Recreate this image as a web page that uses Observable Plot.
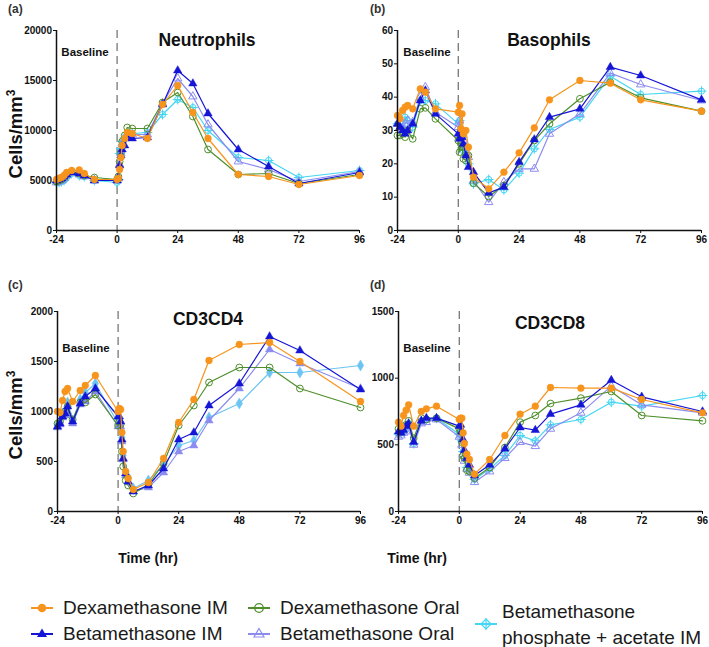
<!DOCTYPE html>
<html>
<head>
<meta charset="utf-8">
<script src="https://cdn.jsdelivr.net/npm/d3@7"></script>
<script src="https://cdn.jsdelivr.net/npm/@observablehq/plot@0.6"></script>
<style>
  html, body { margin: 0; padding: 0; background: #fff; }
  #root { position: relative; width: 709px; height: 647px; font-family: "Liberation Sans", Arial, sans-serif; color: #111; overflow: hidden; }
  .abs { position: absolute; white-space: nowrap; }
  .title { font-weight: bold; font-size: 17.5px; line-height: 18px; text-align: center; width: 200px; }
  .base { font-weight: bold; font-size: 11.5px; line-height: 12px; text-align: center; width: 80px; }
  .letter { font-size: 12px; line-height: 12px; font-weight: bold; color: #333; }
  .ylab { font-weight: bold; font-size: 18.5px; line-height: 20px; width: 140px; height: 20px; text-align: center; transform: rotate(-90deg); }
  .ylab sup { font-size: 12px; line-height: 0; }
  .xlab { font-weight: bold; font-size: 14px; line-height: 16px; width: 100px; text-align: center; }
  .leg { font-size: 19px; line-height: 22px; color: #1a1a1a; }
</style>
</head>
<body>
<div id="root"></div>
<script>
// ---------- DATA ----------
const times = [-24,-23,-22,-21,-20,-18,-15,-13,-9, 0,0.5,1,1.5,2,3,4,6,12,18,24,30,36,48,60,72,96];
const seriesNames = ["Dexamethasone IM","Betamethasone IM","Dexamethasone Oral","Betamethasone Oral","Betamethasone phosphate + acetate IM"];

// Neutrophils (cells/mm3)
const neutDexIM   = [5100,5200,5300,5500,5800,6000,6050,5700,5100, 5100,5200,6100,7300,8500,9200,9800,9700,9200,12600,14500,11800,9200,5600,5400,4600,5500];
const neutBetIM   = [5000,5100,5200,5400,5600,5800,5700,5500,5000, 5000,5300,6500,7500,8100,8500,9300,9200,9300,12600,16000,14700,11700,8100,6400,4700,5800];
const neutDexOral = [4900,5000,5100,5300,5600,5900,5700,5500,5300, 5100,5400,6900,7800,8900,9500,10300,10200,10200,12800,13800,11400,8100,5600,5700,4700,5600];
const neutBetOral = [4800,4900,5000,5200,5500,5800,5600,5400,5000, 5000,5200,6600,7700,8700,9200,9600,9600,9600,12700,15200,13400,10600,6900,6100,4900,5900];
const neutBetPA   = [4800,4800,4900,5000,5300,5700,5500,5400,5000, 4800,5100,7700,8200,8900,9300,9800,9700,9800,11600,13100,12300,10000,7300,7000,5300,6000];

// Basophils
const basoDexIM   = [34.5,33.5,36,37,37.5,36.5,42.5,41.5,36.5, 35.5,37.5,30.5,35,29,30,25,16,12.5,17.5,23.3,30.8,39.2,45,44.2,39.2,35.8];
const basoBetIM   = [32,31,30,29,30,32,39,42,35, 29,27.5,28,28,26,22.5,19,17.5,11.3,13,20.5,27.3,34,36.5,49,46.5,39.2];
const basoDexOral = [28.5,28.5,29,28,30,27.5,36.5,36.8,33.5, 27,23.5,26,25,21.5,21,22.5,14.2,10.2,13.5,20,27,32,39.5,44.5,39.8,35.8];
const basoBetOral = [32,31,30.5,32,33,32.5,40,43,35.5, 31,33,29,30,27,25,22,15,8.5,14.5,18.5,18.5,29,35,47.2,43.8,39];
const basoBetPA   = [32,32,31,34,33,31,39,39,38, 32,33,29,28,24,23,20,14,15.3,12.2,17.2,24.5,30.3,34,46.3,40.8,41.8];

// CD3CD4
const cd4DexIM   = [1000,990,1110,1200,1230,1100,1210,1260,1360, 1000,1030,1020,790,600,400,330,220,290,530,890,1120,1510,1670,1690,1500,1100];
const cd4BetIM   = [850,880,950,980,1050,900,1080,1150,1230, 950,950,900,720,530,380,300,200,260,430,720,790,1060,1280,1750,1610,1220];
const cd4DexOral = [880,900,960,1000,1050,920,1090,1090,1170, 860,900,870,600,450,310,260,180,270,480,860,1060,1290,1440,1440,1230,1040];
const cd4BetOral = [840,870,940,960,1000,880,1070,1100,1200, 850,880,850,700,520,360,290,200,240,390,600,660,910,1230,1620,1480,1230];
const cd4BetPA   = [870,890,980,1000,1090,910,1120,1190,1280, 880,910,880,740,560,400,340,230,310,470,660,710,940,1080,1390,1390,1460];

// CD3CD8
const cd8DexIM   = [670,640,720,760,800,640,750,770,790, 690,700,700,590,510,430,390,280,390,570,730,790,930,925,925,840,740];
const cd8BetIM   = [600,590,610,640,660,520,680,700,700, 640,650,600,540,460,400,350,270,350,470,630,610,730,800,985,860,750];
const cd8DexOral = [620,600,640,650,680,550,700,690,700, 620,600,520,420,400,310,300,250,330,480,670,720,810,850,900,720,680];
const cd8BetOral = [560,570,590,600,640,500,660,670,690, 560,570,500,430,380,320,290,220,300,400,520,490,620,740,940,800,740];
const cd8BetPA   = [580,590,600,630,660,510,680,690,700, 580,590,530,450,400,330,300,240,320,420,570,530,650,690,820,790,870];

const xTicks = [-24,0,24,48,72,96];
const neutTicks = [0,5000,10000,15000,20000];
const basoTicks = [0,10,20,30,40,50,60];
const cd4Ticks = [0,500,1000,1500,2000];
const cd8Ticks = [0,500,1000,1500];

// ---------- STYLES ----------
const colors = ["#F7941D","#1515D6","#4E8F2B","#8C8CF0","#45D6F2"];
const drawOrder = [4,3,2,1,0];

function panelSvg(seriesVals, yTicks, box, variant) {
  const marks = [
    Plot.ruleX([0], {stroke: "#777", strokeWidth: 1.3, strokeDasharray: "8,5"})
  ];
  for (const s of drawOrder) {
    const rows = times.map((t, i) => ({t, v: seriesVals[s][i]}));
    const c = (variant === "cd4" && s === 4) ? "#6CC4F2" : colors[s];
    marks.push(Plot.line(rows, {x: "t", y: "v", stroke: c, strokeWidth: 1.2}));
    if (s === 0) {
      marks.push(Plot.dot(rows, {x: "t", y: "v", symbol: "circle", r: 3.4, fill: c, stroke: c, strokeWidth: 0.5}));
    } else if (s === 1) {
      marks.push(Plot.dot(rows, {x: "t", y: "v", symbol: "triangle", r: 3.1, fill: c, stroke: c, strokeWidth: 0.5}));
    } else if (s === 2) {
      marks.push(Plot.dot(rows, {x: "t", y: "v", symbol: "circle", r: 3.4, fill: "white", fillOpacity: 0, stroke: c, strokeWidth: 1}));
    } else if (s === 3) {
      if (variant === "cd4") marks.push(Plot.dot(rows, {x: "t", y: "v", symbol: "triangle", r: 3.1, fill: c, stroke: c, strokeWidth: 0.5}));
      else marks.push(Plot.dot(rows, {x: "t", y: "v", symbol: "triangle", r: 3.1, fill: "none", stroke: c, strokeWidth: 1}));
    } else {
      if (variant === "cd4") marks.push(Plot.dot(rows, {x: "t", y: "v", symbol: "diamond", r: 3.4, fill: c, stroke: c, strokeWidth: 0.5}));
      else {
        marks.push(Plot.dot(rows, {x: "t", y: "v", symbol: "circle", r: 3.1, fill: "none", stroke: c, strokeWidth: 1}));
        marks.push(Plot.dot(rows, {x: "t", y: "v", symbol: "plus", r: 3.3, stroke: c, strokeWidth: 1}));
      }
    }
  }
  marks.push(Plot.ruleY([yTicks[0]], {stroke: "#111", strokeWidth: 1.5}));
  marks.push(Plot.ruleX([xTicks[0]], {stroke: "#111", strokeWidth: 1.5}));
  const svg = Plot.plot({
    width: box.width, height: box.height,
    marginLeft: box.ml, marginRight: box.mr, marginTop: box.mt, marginBottom: box.mb,
    x: {domain: [xTicks[0], xTicks[xTicks.length - 1]], ticks: xTicks, tickSize: 3, tickPadding: 2, label: null, tickFormat: d => String(d)},
    y: {domain: [yTicks[0], yTicks[yTicks.length - 1]], ticks: yTicks, tickSize: 3, tickPadding: 1.5, label: null, tickFormat: d => String(d)},
    style: {fontFamily: "Liberation Sans, Arial, sans-serif", fontSize: "10px", fontWeight: "bold", color: "#111", background: "transparent", overflow: "visible"},
    marks
  });
  svg.style.position = "absolute";
  svg.style.left = box.left + "px";
  svg.style.top = box.top + "px";
  return svg;
}

const root = document.getElementById("root");
root.appendChild(panelSvg([neutDexIM, neutBetIM, neutDexOral, neutBetOral, neutBetPA], neutTicks,
  {left: 0, top: 0, width: 362, height: 252, ml: 56, mr: 3, mt: 30, mb: 22}, "a"));
root.appendChild(panelSvg([basoDexIM, basoBetIM, basoDexOral, basoBetOral, basoBetPA], basoTicks,
  {left: 350, top: 0, width: 359, height: 252, ml: 47, mr: 8, mt: 30, mb: 22}, "b"));
root.appendChild(panelSvg([cd4DexIM, cd4BetIM, cd4DexOral, cd4BetOral, cd4BetPA], cd4Ticks,
  {left: 0, top: 280, width: 362, height: 252, ml: 57, mr: 2, mt: 31, mb: 21}, "cd4"));
root.appendChild(panelSvg([cd8DexIM, cd8BetIM, cd8DexOral, cd8BetOral, cd8BetPA], cd8Ticks,
  {left: 350, top: 280, width: 359, height: 252, ml: 48, mr: 7, mt: 31, mb: 21}, "d"));

function addText(cls, html, left, top) {
  const d = document.createElement("div");
  d.className = "abs " + cls;
  d.innerHTML = html;
  d.style.left = left + "px";
  d.style.top = top + "px";
  root.appendChild(d);
  return d;
}
// panel letters
addText("letter", "(a)", 8, 3);
addText("letter", "(b)", 370, 3);
addText("letter", "(c)", 8, 279);
addText("letter", "(d)", 370, 279);
// titles (centered)
addText("title", "Neutrophils", 207 - 100, 40 - 9);
addText("title", "Basophils", 549 - 100, 40 - 9);
addText("title", "CD3CD4", 208 - 100, 319 - 9);
addText("title", "CD3CD8", 550 - 100, 323 - 9);
// baseline labels
addText("base", "Baseline", 85 - 40, 52 - 6);
addText("base", "Baseline", 427 - 40, 52 - 6);
addText("base", "Baseline", 86 - 40, 348 - 6);
addText("base", "Baseline", 427 - 40, 348 - 6);
// y labels
addText("ylab", "Cells/mm<sup>3</sup>", 16 - 70, 134 - 10);
addText("ylab", "Cells/mm<sup>3</sup>", 16 - 70, 415 - 10);
// x labels
addText("xlab", "Time (hr)", 148 - 50, 558 - 8);
addText("xlab", "Time (hr)", 417 - 50, 558 - 8);

// legend
function legendMarker(s, cx, cy) {
  const ns = "http://www.w3.org/2000/svg";
  const svg = document.createElementNS(ns, "svg");
  svg.setAttribute("width", 24); svg.setAttribute("height", 16);
  svg.style.position = "absolute";
  svg.style.left = (cx - 12) + "px"; svg.style.top = (cy - 8) + "px";
  const c = colors[s];
  let inner = `<line x1="1" y1="8" x2="23" y2="8" stroke="${c}" stroke-width="2"/>`;
  if (s === 0) inner += `<circle cx="12" cy="8" r="4.3" fill="${c}"/>`;
  if (s === 1) inner += `<path d="M12,2.5 L17,11 L7,11 Z" fill="${c}"/>`;
  if (s === 2) inner += `<circle cx="12" cy="8" r="4.3" fill="none" stroke="${c}" stroke-width="1.3"/>`;
  if (s === 3) inner += `<path d="M12,2.5 L17,11 L7,11 Z" fill="none" stroke="${c}" stroke-width="1.2"/>`;
  if (s === 4) inner += `<path d="M12,3 L17,8 L12,13 L7,8 Z" fill="none" stroke="${c}" stroke-width="1.2"/><line x1="12" y1="2" x2="12" y2="14" stroke="${c}" stroke-width="1.2"/>`;
  svg.innerHTML = inner;
  root.appendChild(svg);
}
legendMarker(0, 42, 608); addText("leg", seriesNames[0], 63, 608 - 11);
legendMarker(1, 42, 634); addText("leg", seriesNames[1], 63, 634 - 11);
legendMarker(2, 259, 608); addText("leg", seriesNames[2], 280, 608 - 11);
legendMarker(3, 259, 634); addText("leg", seriesNames[3], 280, 634 - 11);
legendMarker(4, 486, 624);
addText("leg", "Betamethasone<br>phosphate + acetate IM", 502, 610 - 11).style.lineHeight = "26px";
</script>
</body>
</html>
